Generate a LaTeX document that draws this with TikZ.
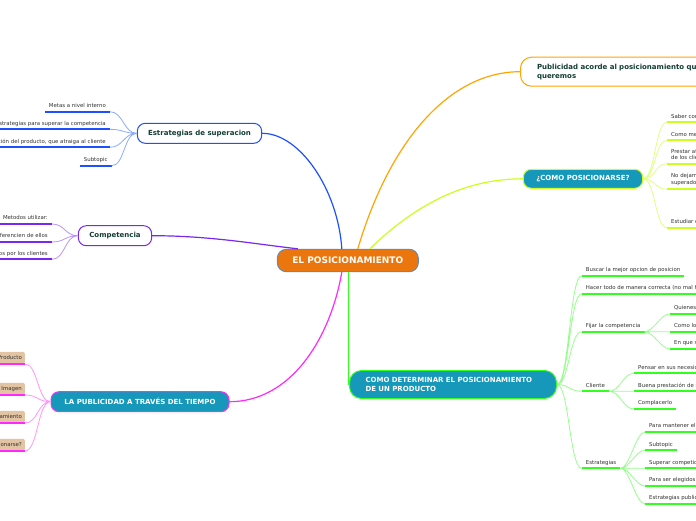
\documentclass[tikz,border=0pt]{standalone}
\usepackage{fontspec}
\setmainfont{DejaVu Sans}

\definecolor{bluebr}{RGB}{30,80,255}
\definecolor{bluelt}{RGB}{140,170,255}
\definecolor{purplebr}{RGB}{120,40,240}
\definecolor{purplelt}{RGB}{185,150,250}
\definecolor{orangebr}{RGB}{255,165,0}
\definecolor{limebr}{RGB}{205,255,30}
\definecolor{limelt}{RGB}{225,255,130}
\definecolor{greenbr}{RGB}{50,255,30}
\definecolor{greenlt}{RGB}{150,255,140}
\definecolor{magentabr}{RGB}{255,40,255}
\definecolor{magentalt}{RGB}{255,150,255}
\definecolor{rootfill}{RGB}{236,118,14}
\definecolor{rootline}{RGB}{95,140,185}
\definecolor{tealfill}{RGB}{22,152,186}
\definecolor{tanfill}{RGB}{226,196,163}
\definecolor{titletext}{RGB}{18,62,50}
\definecolor{leaftext}{RGB}{50,50,50}

\tikzset{
  topic/.style={draw, rounded corners=8pt, minimum height=20pt, line width=1pt, inner xsep=6pt, font=\fontsize{7}{8.5}\selectfont\bfseries},
  whitetopic/.style={topic, fill=white, text=titletext},
  tealtopic/.style={topic, fill=tealfill, text=white},
  leaf/.style={inner xsep=4pt, inner ysep=2.7pt, text height=4pt, text depth=1.4pt, font=\fontsize{5.4}{6.6}\selectfont, text=leaftext},
  leaftwo/.style={leaf, text height=, text depth=, align=left, inner ysep=3.6pt},
  tanleaf/.style={leaf, fill=tanfill, rounded corners=2pt, inner xsep=3pt, inner ysep=3.3pt},
  under/.style={line width=1.7pt},
  twig/.style={line width=0.8pt},
  branch/.style={line width=1.2pt}
}

\begin{document}
\begin{tikzpicture}[x=1pt, y=-1pt]
    \useasboundingbox (0,0) rectangle (696,520);
    \fill[white] (0,0) rectangle (696,520);
    \clip (0,0) rectangle (696,520);

    % Central topic
    \node[draw=rootline, fill=rootfill, text=white, rounded corners=9pt, line width=1pt, minimum width=141pt, minimum height=22.4pt, font=\fontsize{9}{11}\selectfont\bfseries] (root) at (347.8,260.5) {EL POSICIONAMIENTO};

    % Main topics
    \node[whitetopic, draw=bluebr, minimum width=124.4pt] (sup) at (199.5,133.3) {Estrategias de superacion};
    \node[whitetopic, draw=purplebr, minimum width=73.4pt] (comp) at (115,235.7) {Competencia};
    \node[whitetopic, draw=orangebr, rounded corners=11pt, anchor=west, minimum height=29pt, text width=200pt, align=left, inner xsep=16.5pt, font=\fontsize{7}{9}\selectfont\bfseries] (pub) at (520,71.7) {Publicidad acorde al posicionamiento que\\queremos};
    \node[tealtopic, draw=limebr, minimum width=119.4pt, minimum height=19pt] (como) at (583,178.8) {¿COMO POSICIONARSE?};
    \node[tealtopic, draw=greenbr, rounded corners=12pt, minimum height=28pt, text width=175pt, align=left, inner xsep=16pt, font=\fontsize{7}{8.3}\selectfont\bfseries] (det) at (453,384.5) {COMO DETERMINAR EL POSICIONAMIENTO\\DE UN PRODUCTO};
    \node[tealtopic, draw=magentabr, minimum width=178pt] (tiempo) at (140,401.7) {LA PUBLICIDAD A TRAVÉS DEL TIEMPO};

    % Branches from the centre
    \draw[branch, bluebr] ([xshift=-6pt]root.north) .. controls (338,190) and (300,133.3) .. (sup.east);
    \draw[branch, purplebr] ([xshift=-50pt]root.north) .. controls (255,244) and (210,235.7) .. (comp.east);
    \draw[branch, orangebr] ([xshift=10pt]root.north) .. controls (390,140) and (450,71.7) .. (pub.west);
    \draw[branch, limebr] ([xshift=22pt]root.north) .. controls (420,200) and (470,178.8) .. (como.west);
    \draw[branch, greenbr] ([xshift=0.7pt]root.south) -- ([xshift=0.7pt]root.south |- det.west);
    \draw[branch, magentabr] ([xshift=-6pt]root.south) .. controls (330,340) and (290,401.7) .. (tiempo.east);

    % Estrategias de superacion
    \node[leaf, anchor=south east] (supa) at (110,111.7) {Metas a nivel interno};
    \node[leaf, anchor=south east] (supb) at (110,129.3) {Estrategias para superar la competencia};
    \node[leaf, anchor=south east] (supc) at (110,147.3) {Diferenciación del producto, que atraiga al cliente};
    \node[leaf, anchor=south east] (supd) at (111.7,165.7) {Subtopic};
    \draw[under, bluebr] (supa.south west) -- (supa.south east) (supb.south west) -- (supb.south east)
        (supc.south west) -- (supc.south east) (supd.south west) -- (supd.south east);
    \draw[twig, bluelt] (sup.west) .. controls +(-13,0) and +(13,0) .. (supa.south east)
        (sup.west) .. controls +(-13,0) and +(13,0) .. (supb.south east)
        (sup.west) .. controls +(-13,0) and +(13,0) .. (supc.south east)
        (sup.west) .. controls +(-13,0) and +(13,0) .. (supd.south east);

    % Competencia
    \node[leaf, anchor=south east] (compa) at (52,224) {Metodos utilizar:};
    \node[leaf, anchor=south east] (compb) at (52,242) {Que nos diferencien de ellos};
    \node[leaf, anchor=south east] (compc) at (52,259.3) {Como somos vistos por los clientes};
    \draw[under, purplebr] (compa.south west) -- (compa.south east) (compb.south west) -- (compb.south east)
        (compc.south west) -- (compc.south east);
    \draw[twig, purplelt] (comp.west) .. controls +(-13,0) and +(13,0) .. (compa.south east)
        (comp.west) .. controls +(-13,0) and +(13,0) .. (compb.south east)
        (comp.west) .. controls +(-13,0) and +(13,0) .. (compc.south east);

    % La publicidad a traves del tiempo
    \node[tanleaf, anchor=south east] (tiea) at (25,364) {Producto};
    \node[tanleaf, anchor=south east] (tieb) at (25,395) {Imagen};
    \node[tanleaf, anchor=south east] (tiec) at (25,423) {Posicionamiento};
    \node[tanleaf, anchor=south east] (tied) at (25,451) {¿Como posicionarse?};
    \draw[under, magentabr] (tiea.south west) -- (tiea.south east) (tieb.south west) -- (tieb.south east)
        (tiec.south west) -- (tiec.south east) (tied.south west) -- (tied.south east);
    \draw[twig, magentalt] (tiempo.west) .. controls +(-13,0) and +(13,0) .. (tiea.south east)
        (tiempo.west) .. controls +(-13,0) and +(13,0) .. (tieb.south east)
        (tiempo.west) .. controls +(-13,0) and +(13,0) .. (tiec.south east)
        (tiempo.west) .. controls +(-13,0) and +(13,0) .. (tied.south east);

    % Como posicionarse
    \node[leaf, anchor=south west] (comoa) at (667,122.3) {Saber como nos ven};
    \node[leaf, anchor=south west] (comob) at (667,140.3) {Como mejorar};
    \node[leaftwo, anchor=south west] (comoc) at (667,163.7) {Prestar atención a las necesidades\\de los clientes};
    \node[leaftwo, anchor=south west] (comod) at (667,189.3) {No dejarnos ser\\superados};
    \node[leaf, anchor=south west] (comoe) at (667,227.7) {Estudiar el mercado};
    \draw[under, limebr] (comoa.south west) -- (comoa.south east) (comob.south west) -- (comob.south east)
        (comoc.south west) -- (comoc.south east) (comod.south west) -- (comod.south east)
        (comoe.south west) -- (comoe.south east);
    \draw[twig, limelt] (como.east) .. controls +(12,0) and +(-12,0) .. (comoa.south west)
        (como.east) .. controls +(12,0) and +(-12,0) .. (comob.south west)
        (como.east) .. controls +(12,0) and +(-12,0) .. (comoc.south west)
        (como.east) .. controls +(12,0) and +(-12,0) .. (comod.south west)
        (como.east) .. controls +(12,0) and +(-12,0) .. (comoe.south west);

    % Como determinar el posicionamiento
    \node[leaf, anchor=south west] (deta) at (581.7,275.7) {Buscar la mejor opcion de posicion};
    \node[leaf, anchor=south west] (detb) at (581.7,293.7) {Hacer todo de manera correcta (no mal hecho)};
    \node[leaf, anchor=south west] (detc) at (581.7,331.7) {Fijar la competencia};
    \node[leaf, anchor=south west] (detd) at (581.7,391.3) {Cliente};
    \node[leaf, anchor=south west] (dete) at (581.7,468.3) {Estrategias};
    \draw[under, greenbr] (deta.south west) -- (deta.south east) (detb.south west) -- (detb.south east)
        (detc.south west) -- (detc.south east) (detd.south west) -- (detd.south east)
        (dete.south west) -- (dete.south east);
    \draw[twig, greenlt] (det.east) .. controls +(12,0) and +(-12,0) .. (deta.south west)
        (det.east) .. controls +(12,0) and +(-12,0) .. (detb.south west)
        (det.east) .. controls +(12,0) and +(-12,0) .. (detc.south west)
        (det.east) .. controls +(12,0) and +(-12,0) .. (detd.south west)
        (det.east) .. controls +(12,0) and +(-12,0) .. (dete.south west);

    % Fijar la competencia
    \node[leaf, anchor=south west] (fija) at (670,313.7) {Quienes son};
    \node[leaf, anchor=south west] (fijb) at (670,331.7) {Como lo hacen};
    \node[leaf, anchor=south west] (fijc) at (670,349) {En que se diferencian};
    \draw[under, greenbr] (fija.south west) -- (fija.south east) (fijb.south west) -- (fijb.south east)
        (fijc.south west) -- (fijc.south east);
    \draw[twig, greenlt] (detc.south east) .. controls +(9,0) and +(-9,0) .. (fija.south west)
        (detc.south east) -- (fijb.south west)
        (detc.south east) .. controls +(9,0) and +(-9,0) .. (fijc.south west);

    % Cliente
    \node[leaf, anchor=south west] (clia) at (634,373.3) {Pensar en sus necesidades};
    \node[leaf, anchor=south west] (clib) at (634,391.3) {Buena prestación de servicio};
    \node[leaf, anchor=south west] (clic) at (634,409) {Complacerlo};
    \draw[under, greenbr] (clia.south west) -- (clia.south east) (clib.south west) -- (clib.south east)
        (clic.south west) -- (clic.south east);
    \draw[twig, greenlt] (detd.south east) .. controls +(11,0) and +(-11,0) .. (clia.south west)
        (detd.south east) -- (clib.south west)
        (detd.south east) .. controls +(11,0) and +(-11,0) .. (clic.south west);

    % Estrategias
    \node[leaf, anchor=south west] (esta) at (645,432) {Para mantener el producto};
    \node[leaf, anchor=south west] (estb) at (645,450.3) {Subtopic};
    \node[leaf, anchor=south west] (estc) at (645,468.3) {Superar competidores};
    \node[leaf, anchor=south west] (estd) at (645,486) {Para ser elegidos por los clientes};
    \node[leaf, anchor=south west] (este) at (645,504) {Estrategias publicitarias};
    \draw[under, greenbr] (esta.south west) -- (esta.south east) (estb.south west) -- (estb.south east)
        (estc.south west) -- (estc.south east) (estd.south west) -- (estd.south east)
        (este.south west) -- (este.south east);
    \draw[twig, greenlt] (dete.south east) .. controls +(9,0) and +(-9,0) .. (esta.south west)
        (dete.south east) .. controls +(9,0) and +(-9,0) .. (estb.south west)
        (dete.south east) -- (estc.south west)
        (dete.south east) .. controls +(9,0) and +(-9,0) .. (estd.south west)
        (dete.south east) .. controls +(9,0) and +(-9,0) .. (este.south west);
\end{tikzpicture}
\end{document}
